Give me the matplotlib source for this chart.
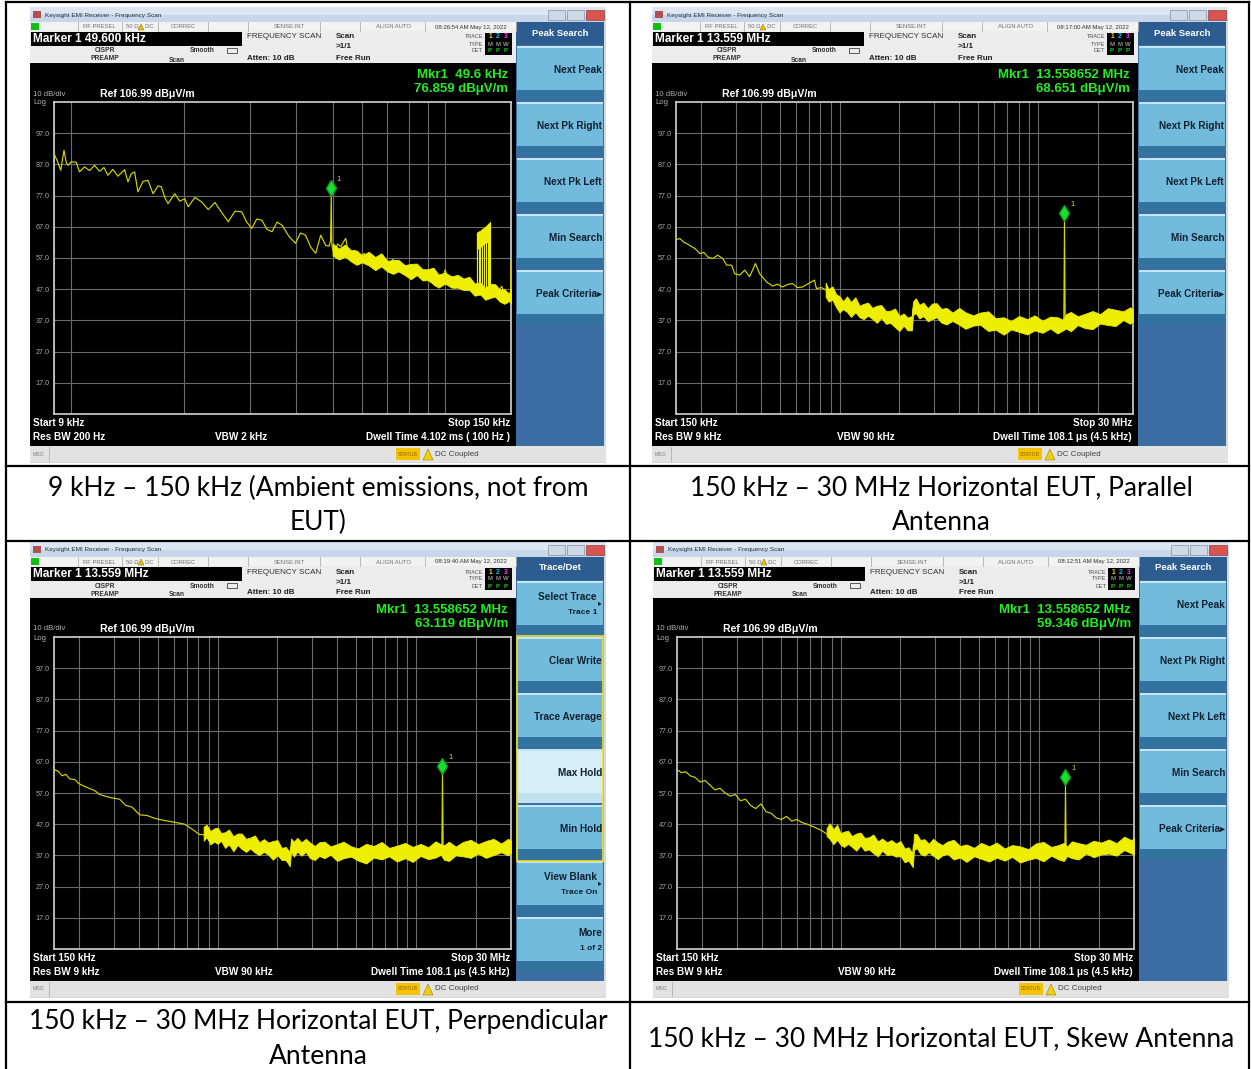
import matplotlib
matplotlib.use("Agg")
import matplotlib.pyplot as plt
from matplotlib.patches import Rectangle, Polygon
from matplotlib.ticker import LogLocator, NullLocator
from matplotlib.transforms import offset_copy

plt.rcParams["font.family"] = ["Liberation Sans", "DejaVu Sans"]

W, H = 1251, 1069

# ---------------- data ----------------
# 9 kHz - 150 kHz ambient scan, frequency in kHz, level in dBuV/m
amb_f = [9.00, 9.19, 9.38, 9.57, 9.71, 9.81, 10.01, 10.31, 10.53, 10.86,
         11.20, 11.55, 11.91, 12.24, 12.54, 12.93, 13.34, 13.90, 14.19, 14.48,
         14.78, 15.09, 15.56, 16.05, 16.56, 17.08, 17.43, 17.79, 18.16, 18.93,
         19.52, 20.14, 20.56, 21.42, 22.32, 23.26, 24.24, 25.26, 26.32, 27.43,
         28.58, 29.48, 30.41, 31.37, 32.36, 33.39, 34.44, 35.53, 36.65, 38.19,
         39.80, 41.06, 42.35, 43.69, 45.07, 46.49, 47.96, 48.95, 49.40, 49.60,
         49.80, 50.50, 51.55, 52.56, 54.22, 55.35, 57.09, 58.28, 60.74, 62.65,
         64.63, 68.04, 70.18, 72.40, 74.69, 77.02, 79.45, 82.79, 86.26, 90.29,
         94.07, 98.01, 100.0, 103.1, 106.3, 109.7, 113.2, 116.7, 120.3, 125.0,
         130.0, 136.1, 141.8, 146.3, 149.5, 150.0]
amb_db = [90.4, 88.0, 85.1, 91.5, 87.5, 86.7, 87.8, 87.7, 84.6, 86.2,
          85.0, 86.7, 84.8, 86.0, 83.5, 85.4, 83.2, 85.3, 81.4, 84.0,
          84.6, 78.2, 81.5, 81.9, 77.6, 80.1, 79.8, 76.5, 74.4, 77.6,
          75.2, 76.0, 73.4, 76.4, 75.0, 72.5, 74.8, 71.6, 68.6, 72.0,
          71.8, 68.5, 66.5, 69.5, 69.1, 66.2, 65.4, 68.5, 67.5, 64.0,
          61.7, 65.0, 64.3, 60.5, 58.5, 64.3, 61.0, 60.8, 62.5, 76.859,
          61.0, 58.0, 61.5, 60.6, 63.3, 57.5, 59.5, 56.4, 58.5, 55.5,
          55.8, 58.0, 54.2, 56.5, 55.3, 52.5, 51.0, 53.7, 50.5, 50.5,
          48.0, 50.0, 53.2, 48.5, 47.3, 49.5, 48.9, 47.0, 46.2, 46.0,
          45.5, 45.2, 47.9, 42.5, 44.5, 55.8]
amb_band_f = [50, 52, 54, 56, 58, 60, 62.5, 65, 67.5, 70,
              72.5, 75, 78, 81, 84, 87, 90, 93, 96, 100,
              104, 108, 112, 116, 120, 124, 128, 132, 136, 140,
              144, 148, 150]
amb_band_hi = [61.7, 60.0, 61.3, 59.5, 59.4, 57.8, 59.0, 57.3, 58.5, 56.1,
               56.3, 56.4, 54.7, 55.1, 55.2, 53.4, 53.4, 53.9, 51.7, 52.3,
               51.1, 51.6, 50.4, 51.0, 48.8, 49.2, 47.4, 48.7, 48.6, 46.9,
               47.0, 45.6, 47.1]
amb_band_lo = [57.8, 56.5, 57.4, 55.9, 54.8, 55.6, 54.6, 53.1, 54.3, 52.7,
               51.9, 52.7, 51.5, 50.2, 51.5, 49.8, 49.9, 48.6, 47.5, 48.8,
               47.5, 47.5, 46.7, 46.8, 44.9, 45.4, 43.6, 44.2, 44.6, 43.0,
               42.3, 43.2, 42.4]
amb_burst_f = [121.5, 121.9, 123.0, 124.2, 125.5, 127.0, 128.5, 130.0, 131.2, 131.9]
amb_burst_top = [64.9, 65.2, 65.5, 65.8, 66.3, 66.7, 67.2, 67.8, 68.3, 68.6]
amb_burst_base = [59.5, 60.0, 60.0, 60.5, 61.0, 61.5, 62.0, 62.0, 62.5, 63.0]

# noisy-floor envelope frequencies shared by the three 150 kHz - 30 MHz scans (MHz)
band_f_mhz = [0.85, 0.88, 0.92, 0.96, 1.0, 1.04, 1.09, 1.14, 1.2, 1.26,
              1.32, 1.39, 1.46, 1.54, 1.62, 1.71, 1.8, 1.9, 2.0, 2.1,
              2.2, 2.31, 2.34, 2.42, 2.52, 2.64, 2.78, 2.92, 3.08, 3.25,
              3.45, 3.7, 4.0, 4.3, 4.7, 5.1, 5.6, 6.1, 6.7, 7.3,
              8.0, 8.8, 9.6, 10.5, 11.5, 12.5, 13.3, 13.8, 14.6, 15.8,
              17.2, 18.8, 20.5, 22.4, 24.5, 26.8, 29.0, 30.0]

# 150 kHz - 30 MHz, parallel antenna (MHz, dBuV/m)
par_f = [0.150, 0.157, 0.1645, 0.170, 0.178, 0.187, 0.198, 0.207, 0.217, 0.230,
         0.243, 0.258, 0.270, 0.286, 0.296, 0.314, 0.333, 0.352, 0.377, 0.395,
         0.429, 0.460, 0.487, 0.516, 0.546, 0.579, 0.613, 0.650, 0.688, 0.747,
         0.764, 0.809, 0.857, 0.918, 0.996, 1.056, 1.118, 1.185, 1.255, 1.330,
         1.409, 1.527, 1.637, 1.774, 1.924, 2.038, 2.160, 2.262, 2.314, 2.341,
         2.509, 2.720, 2.983, 3.160, 3.547, 3.981, 5.007, 6.297, 7.920, 9.962,
         12.53, 13.45, 13.5587, 13.67, 15.75, 19.82, 24.92, 30.0]
par_db = [62.9, 63.2, 62.0, 61.6, 60.8, 60.0, 58.4, 58.8, 57.3, 56.8,
          57.9, 56.8, 54.7, 54.7, 52.0, 51.5, 53.1, 51.0, 55.2, 52.0,
          49.3, 48.0, 48.6, 47.7, 48.5, 48.8, 47.5, 47.7, 48.6, 49.9,
          47.2, 47.5, 46.7, 44.6, 41.9, 42.8, 41.4, 40.8, 39.8, 40.6,
          39.2, 38.9, 38.2, 37.5, 36.6, 35.8, 35.0, 34.4, 34.2, 40.8,
          41.5, 40.3, 39.6, 38.7, 38.2, 37.3, 36.2, 35.1, 35.0, 35.3,
          36.0, 36.2, 68.651, 36.3, 36.8, 37.9, 38.5, 39.0]
par_band_hi = [49.1, 47.0, 47.9, 45.4, 44.7, 43.1, 44.7, 42.9, 44.4, 41.7,
               42.3, 42.7, 41.0, 41.7, 41.9, 40.0, 40.1, 40.8, 38.4, 39.2,
               37.9, 38.4, 43.0, 44.1, 42.0, 42.7, 40.9, 42.4, 42.5, 40.7,
               41.0, 39.5, 41.0, 39.6, 38.6, 39.5, 39.9, 37.7, 38.0, 36.8,
               38.4, 37.4, 38.6, 36.9, 38.2, 38.0, 37.2, 39.0, 39.7, 38.3,
               39.1, 40.0, 39.0, 40.9, 40.4, 39.9, 41.2, 40.5]
par_band_lo = [44.6, 43.0, 43.6, 41.2, 39.5, 40.6, 39.7, 38.1, 39.6, 38.0,
               37.4, 38.5, 37.5, 36.2, 37.8, 35.9, 36.2, 34.8, 33.6, 35.3,
               33.8, 33.8, 38.8, 39.3, 37.6, 38.4, 36.7, 37.4, 38.0, 36.3,
               35.7, 36.8, 35.6, 34.3, 35.3, 35.6, 33.6, 34.0, 32.4, 34.1,
               33.3, 32.5, 33.8, 33.0, 34.4, 32.8, 33.8, 34.4, 33.5, 35.5,
               34.5, 34.2, 36.0, 35.5, 35.2, 37.1, 35.9, 36.7]

# 150 kHz - 30 MHz, perpendicular antenna
perp_f = [0.150, 0.157, 0.165, 0.172, 0.180, 0.191, 0.200, 0.212, 0.225, 0.240,
          0.255, 0.270, 0.290, 0.321, 0.345, 0.370, 0.405, 0.440, 0.480, 0.510,
          0.560, 0.620, 0.681, 0.740, 0.809, 0.900, 1.000, 1.144, 1.300, 1.450,
          1.617, 1.800, 2.000, 2.159, 2.234, 2.300, 2.340, 3.0, 5.0, 8.0,
          12.0, 13.45, 13.5587, 13.67, 16.0, 22.0, 30.0]
perp_db = [64.5, 64.0, 62.5, 63.0, 61.5, 61.3, 60.0, 59.2, 58.5, 57.8,
           56.5, 56.0, 55.5, 55.0, 53.0, 52.5, 50.0, 49.8, 48.9, 48.5,
           48.0, 47.5, 47.0, 45.5, 43.7, 43.5, 42.8, 42.0, 41.0, 40.2,
           39.6, 38.8, 38.0, 37.3, 35.0, 36.0, 39.6, 39.0, 38.0, 37.5,
           37.8, 38.0, 63.119, 38.0, 38.3, 38.9, 39.5]
perp_band_hi = [46.2, 46.8, 44.8, 45.6, 45.9, 44.2, 44.4, 45.3, 43.1, 44.0,
                44.0, 42.3, 42.7, 43.4, 41.2, 42.2, 41.1, 41.6, 41.9, 39.4,
                39.7, 38.1, 42.4, 41.4, 42.6, 41.2, 42.3, 41.1, 40.0, 41.2,
                41.4, 39.9, 40.6, 41.4, 39.9, 39.2, 40.7, 40.0, 41.3, 39.4,
                40.1, 41.0, 39.7, 40.7, 39.6, 41.5, 40.6, 40.2, 41.4, 39.8,
                41.3, 42.0, 40.6, 41.6, 42.3, 40.8, 42.3, 41.7]
perp_band_lo = [41.7, 42.8, 40.5, 41.4, 40.7, 41.7, 39.4, 40.5, 38.3, 40.3,
                39.1, 38.1, 39.2, 37.9, 37.1, 38.1, 37.2, 35.6, 37.1, 35.5,
                35.6, 33.5, 38.2, 36.6, 38.2, 36.9, 38.1, 36.1, 35.5, 36.8,
                36.1, 37.2, 35.2, 36.1, 36.6, 35.3, 34.4, 36.3, 35.7, 36.7,
                35.0, 36.1, 34.9, 36.8, 35.8, 36.3, 37.2, 35.6, 35.2, 37.0,
                36.7, 36.2, 37.6, 36.2, 37.1, 38.0, 37.0, 37.9]

# 150 kHz - 30 MHz, skew antenna
skew_f = [0.150, 0.158, 0.166, 0.175, 0.185, 0.196, 0.208, 0.220, 0.233, 0.247,
          0.262, 0.278, 0.295, 0.313, 0.332, 0.352, 0.374, 0.397, 0.421, 0.447,
          0.474, 0.503, 0.534, 0.567, 0.602, 0.640, 0.680, 0.740, 0.800, 0.870,
          0.950, 1.050, 1.200, 1.400, 1.600, 1.850, 2.100, 2.280, 2.330, 2.600,
          3.2, 5.0, 8.0, 12.0, 13.45, 13.5587, 13.67, 16.0, 22.0, 30.0]
skew_db = [64.5, 63.5, 63.8, 62.5, 62.0, 60.5, 61.0, 59.5, 58.0, 58.5,
           57.0, 56.0, 56.5, 54.5, 55.0, 53.0, 52.0, 53.5, 51.0, 50.5,
           49.0, 48.5, 49.5, 48.0, 48.5, 47.5, 47.0, 46.0, 45.0, 43.5,
           42.5, 42.0, 40.5, 39.5, 38.5, 37.5, 36.5, 35.0, 40.5, 40.0,
           38.5, 37.5, 37.0, 37.2, 37.5, 59.346, 37.5, 38.0, 38.8, 39.5]
skew_band_hi = [45.7, 47.3, 45.4, 46.8, 44.1, 44.6, 44.9, 43.2, 44.0, 44.3,
                42.6, 42.8, 43.7, 41.5, 42.4, 41.2, 41.9, 40.8, 41.6, 39.2,
                39.6, 37.4, 43.8, 43.8, 41.9, 42.2, 40.7, 42.3, 41.1, 40.3,
                41.4, 42.0, 40.0, 40.5, 39.4, 41.0, 39.9, 41.1, 39.2, 40.3,
                39.9, 39.0, 40.8, 41.3, 39.7, 40.3, 41.0, 39.8, 41.5, 40.9,
                40.4, 41.7, 41.1, 42.1, 40.9, 43.0, 41.9, 42.4]
skew_band_lo = [43.2, 42.3, 40.6, 42.0, 40.4, 39.7, 40.7, 39.7, 38.5, 40.2,
                38.5, 38.9, 37.7, 36.7, 38.5, 37.1, 37.3, 36.6, 36.8, 34.8,
                35.3, 33.2, 38.8, 39.3, 37.5, 36.9, 38.0, 36.9, 35.8, 37.0,
                37.5, 35.7, 36.3, 34.9, 36.7, 35.9, 35.0, 36.3, 35.3, 36.5,
                34.7, 35.6, 36.2, 35.1, 36.9, 35.7, 35.2, 36.8, 36.1, 35.7,
                37.6, 36.4, 37.3, 37.6, 36.9, 38.7, 37.7, 37.2]

ref_level = 106.99
grid_db = [96.99, 86.99, 76.99, 66.99, 56.99, 46.99, 36.99, 26.99, 16.99]
grid_labels = ["97.0", "87.0", "77.0", "67.0", "57.0", "47.0", "37.0", "27.0", "17.0"]

times = ["08:26:54 AM May 12, 2022", "08:17:00 AM May 12, 2022",
         "08:19:40 AM May 12, 2022", "08:12:51 AM May 12, 2022"]
marker_heads = ["Marker 1 49.600 kHz", "Marker 1 13.559 MHz",
                "Marker 1 13.559 MHz", "Marker 1 13.559 MHz"]
mkr_freq_text = ["49.6 kHz", "13.558652 MHz", "13.558652 MHz", "13.558652 MHz"]
mkr_f = [49.6, 13.558652, 13.558652, 13.558652]
mkr_db = [76.859, 68.651, 63.119, 59.346]
start_text = ["Start 9 kHz", "Start 150 kHz", "Start 150 kHz", "Start 150 kHz"]
stop_text = ["Stop 150 kHz", "Stop 30 MHz", "Stop 30 MHz", "Stop 30 MHz"]
rbw_text = ["Res BW 200 Hz", "Res BW 9 kHz", "Res BW 9 kHz", "Res BW 9 kHz"]
vbw_text = ["VBW 2 kHz", "VBW 90 kHz", "VBW 90 kHz", "VBW 90 kHz"]
dwell_text = ["Dwell Time 4.102 ms ( 100 Hz )", "Dwell Time 108.1 \u03bcs (4.5 kHz)",
              "Dwell Time 108.1 \u03bcs (4.5 kHz)", "Dwell Time 108.1 \u03bcs (4.5 kHz)"]
f_span = [(9.0, 150.0), (0.15, 30.0), (0.15, 30.0), (0.15, 30.0)]

peak_menu = ["Next Peak", "Next Pk Right", "Next Pk Left", "Min Search", "Peak Criteria\u25b8"]
trace_menu = [("Select Trace", "Trace 1"), ("Clear Write", ""), ("Trace Average", ""),
              ("Max Hold", ""), ("Min Hold", ""), ("View Blank", "Trace On"), ("More", "1 of 2")]

captions = [["9 kHz \u2013 150 kHz (Ambient emissions, not from", "EUT)"],
            ["150 kHz \u2013 30 MHz Horizontal EUT, Parallel", "Antenna"],
            ["150 kHz \u2013 30 MHz Horizontal EUT, Perpendicular", "Antenna"],
            ["150 kHz \u2013 30 MHz Horizontal EUT, Skew Antenna"]]

# ---------------- figure ----------------
fig = plt.figure(figsize=(W / 100, H / 100), dpi=100)
ov = fig.add_axes([0, 0, 1, 1])
ov.set_xlim(0, W)
ov.set_ylim(H, 0)
ov.axis("off")


def box(x, y, w, h, fc, ec="none", lw=0, z=1):
    ov.add_patch(Rectangle((x, y), w, h, facecolor=fc, edgecolor=ec, linewidth=lw, zorder=z))


def txt(x, y, s, size=5, color="black", weight="normal", ha="left", **kw):
    ov.text(x, y, s, fontsize=size, color=color, fontweight=weight, ha=ha,
            va="center", zorder=6, **kw)


def button(x, y, w, h, light=False):
    box(x, y, w, h, "#d6eef8" if light else "#72bbdc", z=2)
    box(x, y, w, 2, "#c2e6f5", z=2)
    box(x, y + h - 10, w, 10, "#c2e2f0" if light else "#33739f", z=2)


def screen(i, x0, y0, menu_kind):
    # window frame / title bar
    box(x0, y0, 576, 456, "#d8d8d8")
    box(x0, y0, 576, 8, "#dbe6f2")
    box(x0, y0 + 8, 576, 8, "#c7d6e8")
    box(x0 + 3, y0 + 4, 8, 7, "#b05050")
    txt(x0 + 15, y0 + 8, "Keysight EMI Receiver - Frequency Scan", size=4.6, color="#1a2a3a")
    box(x0 + 518, y0 + 3, 17, 10, "#cfd9e6", ec="#8090a8", lw=0.5)
    box(x0 + 537, y0 + 3, 17, 10, "#cfd9e6", ec="#8090a8", lw=0.5)
    box(x0 + 556, y0 + 3, 18, 10, "#d9534f", ec="#904040", lw=0.5)

    # status row
    box(x0, y0 + 15, 486, 9, "#f2f2f2")
    box(x0 + 1, y0 + 16, 8, 7, "#10c010")
    for sx in [48, 92, 128, 178, 218, 290, 330, 395, 486]:
        ov.plot([x0 + sx, x0 + sx], [y0 + 15, y0 + 24], color="#b0b0b0", lw=0.6, zorder=3)
    txt(x0 + 69, y0 + 20, "RF PRESEL", size=4.2, color="#707070", ha="center")
    txt(x0 + 110, y0 + 20, "50 \u03a9    DC", size=4.2, color="#707070", ha="center")
    ov.add_patch(Polygon([[x0 + 108, y0 + 23], [x0 + 114, y0 + 23], [x0 + 111, y0 + 17]],
                         closed=True, facecolor="#e8c000", edgecolor="#806000", lw=0.3, zorder=4))
    txt(x0 + 153, y0 + 20, "CORREC", size=4.2, color="#707070", ha="center")
    txt(x0 + 259, y0 + 20, "SENSE:INT", size=4.2, color="#707070", ha="center")
    txt(x0 + 363, y0 + 20, "ALIGN AUTO", size=4.2, color="#707070", ha="center")
    txt(x0 + 441, y0 + 20, times[i], size=4.3, color="#303030", ha="center")

    # settings area
    box(x0, y0 + 24, 486, 32, "#ececec")
    box(x0 + 1, y0 + 25, 211, 14, "black", z=2)
    txt(x0 + 3, y0 + 32, marker_heads[i], size=8.6, color="white", weight="bold")
    txt(x0 + 75, y0 + 44, "CISPR", size=4.8, color="#303030", ha="center", weight="bold")
    txt(x0 + 75, y0 + 52, "PREAMP", size=4.8, color="#303030", ha="center", weight="bold")
    txt(x0 + 185, y0 + 44, "Smooth", size=4.8, color="#303030", ha="right", weight="bold")
    txt(x0 + 147, y0 + 53, "Scan", size=4.8, color="#303030", ha="center", weight="bold")
    box(x0 + 197, y0 + 41, 10, 5, "none", ec="#404040", lw=0.6, z=3)
    txt(x0 + 217, y0 + 30, "FREQUENCY SCAN", size=5.8, color="#303030")
    txt(x0 + 217, y0 + 51, "Atten: 10 dB", size=5.8, color="#202020", weight="bold")
    txt(x0 + 306, y0 + 30, "Scan", size=5.8, color="#202020", weight="bold")
    txt(x0 + 306, y0 + 40, ">1/1", size=5.8, color="#202020", weight="bold")
    txt(x0 + 306, y0 + 51, "Free Run", size=5.8, color="#202020", weight="bold")
    txt(x0 + 453, y0 + 30, "TRACE", size=4.0, color="#505050", ha="right")
    txt(x0 + 453, y0 + 37, "TYPE", size=4.0, color="#505050", ha="right")
    txt(x0 + 453, y0 + 44, "DET", size=4.0, color="#505050", ha="right")
    box(x0 + 455, y0 + 26, 27, 22, "black", z=2)
    for k, (c, t) in enumerate(zip(["#f0e000", "#00c8ff", "#ff30ff"], ["M", "M", "W"])):
        txt(x0 + 460 + 8 * k, y0 + 30, str(k + 1), size=4.8, color=c, weight="bold", ha="center")
        txt(x0 + 460 + 8 * k, y0 + 37, t, size=4.4, color="#909090", weight="bold", ha="center")
        txt(x0 + 460 + 8 * k, y0 + 44, "P", size=4.4, color="#10d010", weight="bold", ha="center")

    # black display area
    box(x0, y0 + 56, 486, 383, "black")
    txt(x0 + 478, y0 + 68, "Mkr1  " + mkr_freq_text[i], size=9.5, color="#22ee22",
        weight="bold", ha="right")
    txt(x0 + 478, y0 + 82, "%.3f dB\u03bcV/m" % mkr_db[i], size=9.5, color="#22ee22",
        weight="bold", ha="right")
    txt(x0 + 3, y0 + 87, "10 dB/div", size=5.6, color="#b0b0b0")
    txt(x0 + 3, y0 + 96, "Log", size=5.6, color="#b0b0b0")
    txt(x0 + 70, y0 + 87, "Ref %.2f dB\u03bcV/m" % ref_level, size=7.6, color="white", weight="bold")
    txt(x0 + 3, y0 + 416, start_text[i], size=7.2, color="white", weight="bold")
    txt(x0 + 3, y0 + 430, rbw_text[i], size=7.2, color="white", weight="bold")
    txt(x0 + 185, y0 + 430, vbw_text[i], size=7.2, color="white", weight="bold")
    txt(x0 + 480, y0 + 416, stop_text[i], size=7.2, color="white", weight="bold", ha="right")
    txt(x0 + 480, y0 + 430, dwell_text[i], size=7.2, color="white", weight="bold", ha="right")

    # message bar
    box(x0, y0 + 439, 576, 16, "#e2e2e2")
    ov.plot([x0 + 19, x0 + 19], [y0 + 440, y0 + 454], color="#b0b0b0", lw=0.6, zorder=3)
    txt(x0 + 3, y0 + 447, "MSG", size=3.8, color="#808080")
    box(x0 + 366, y0 + 441, 24, 12, "#f3c200", z=2)
    txt(x0 + 378, y0 + 447, "STATUS", size=3.8, color="#8a5a00", ha="center")
    ov.add_patch(Polygon([[x0 + 393, y0 + 453], [x0 + 403, y0 + 453], [x0 + 398, y0 + 442]],
                         closed=True, facecolor="#f0d000", edgecolor="#806000", lw=0.3, zorder=4))
    txt(x0 + 405, y0 + 447, "DC Coupled", size=5.8, color="#404040")

    # soft-key panel
    box(x0 + 486, y0 + 15, 88, 424, "#3a6da2")
    box(x0 + 486, y0 + 15, 88, 23, "#2d5d90", z=2)
    if menu_kind == "peak":
        txt(x0 + 530, y0 + 26, "Peak Search", size=6.8, color="white", weight="bold", ha="center")
        for k, lab in enumerate(peak_menu):
            top = y0 + 39 + 56 * k
            button(x0 + 487, top, 86, 54)
            txt(x0 + 572, top + 24, lab, size=7.2, color="#102030", weight="bold", ha="right")
    else:
        txt(x0 + 530, y0 + 26, "Trace/Det", size=6.8, color="white", weight="bold", ha="center")
        for k, (lab, sub) in enumerate(trace_menu):
            top = y0 + 39 + 56 * k
            button(x0 + 487, top, 86, 54, light=(lab == "Max Hold"))
            if sub:
                xr = x0 + 567 if k in (0, 5) else x0 + 572
                txt(xr, top + 16, lab, size=7.2, color="#102030", weight="bold", ha="right")
                txt(xr, top + 31, sub, size=6.0, color="#102030", weight="bold", ha="right")
                if k in (0, 5):
                    txt(x0 + 568, top + 23, "\u25b8", size=5.5, color="#102030")
            else:
                txt(x0 + 572, top + 24, lab, size=7.2, color="#102030", weight="bold", ha="right")
        box(x0 + 487, y0 + 94, 86, 225, "none", ec="#f0e020", lw=1.2, z=3)


def trace(i, x0, y0, f, db, band_f, band_lo, band_hi):
    ax = fig.add_axes([(x0 + 24) / W, 1 - (y0 + 95 + 312) / H, 457 / W, 312 / H])
    ax.set_facecolor("black")
    ax.set_xscale("log")
    ax.set_xlim(*f_span[i])
    ax.set_ylim(ref_level - 100, ref_level)
    ax.xaxis.set_major_locator(LogLocator(base=10, subs=range(1, 10), numticks=100))
    ax.xaxis.set_minor_locator(NullLocator())
    ax.set_yticks(grid_db)
    ax.set_yticklabels(grid_labels, fontsize=5.2, color="#a8a8a8")
    ax.tick_params(axis="both", length=0, pad=3, labelbottom=False)
    ax.grid(True, color="#6c6c6c", lw=0.8)
    for s in ax.spines.values():
        s.set_color("#c4c4c4")
        s.set_linewidth(1.3)
    ax.plot(f, db, color="#d4d400", lw=0.85, zorder=3)
    ax.fill_between(band_f, band_lo, band_hi, color="#eeee00", lw=0.6, zorder=4)
    mark = offset_copy(ax.transData, fig=fig, y=6, units="points")
    ax.plot([mkr_f[i]], [mkr_db[i]], marker="d", ms=8, color="#18e030", mec="#10a020",
            transform=mark, zorder=6, clip_on=False)
    lab = offset_copy(ax.transData, fig=fig, x=4, y=11, units="points")
    ax.text(mkr_f[i], mkr_db[i], "1", transform=lab, fontsize=5.5, color="#e8d040", zorder=6)
    return ax


origins = [(30, 7), (652, 7), (30, 542), (653, 542)]
menus = ["peak", "peak", "trace", "peak"]
for i, (x0, y0) in enumerate(origins):
    screen(i, x0, y0, menus[i])

ax1 = trace(0, 30, 7, amb_f, amb_db, amb_band_f, amb_band_lo, amb_band_hi)
ax1.fill_between(amb_burst_f, amb_burst_base, amb_burst_top, color="#eeee00", lw=0.5, zorder=4)
ax1.vlines(amb_burst_f, 45.0, amb_burst_top, color="#eeee00", lw=0.8, zorder=4)
trace(1, 652, 7, par_f, par_db, band_f_mhz, par_band_lo, par_band_hi)
trace(2, 30, 542, perp_f, perp_db, band_f_mhz, perp_band_lo, perp_band_hi)
trace(3, 653, 542, skew_f, skew_db, band_f_mhz, skew_band_lo, skew_band_hi)

# small green reference carets above "Stop"
for (cx, cy) in [(468, 411), (1005, 414), (1049, 949)]:
    txt(cx, cy, "^", size=5, color="#20d020", ha="center")

# table rules
for xv in [6, 630, 1249]:
    ov.plot([xv, xv], [2, H], color="black", lw=1.6, zorder=7)
for yv in [2, 466, 541, 1002]:
    ov.plot([6, 1249], [yv, yv], color="black", lw=1.6, zorder=7)

cap_x = [318, 941, 318, 941]
cap_y = [[488, 522], [488, 522], [1022, 1056], [1039]]
for cx, ys, lines in zip(cap_x, cap_y, captions):
    for yy, line in zip(ys, lines):
        ov.text(cx, yy, line, fontsize=19, family=["Lato", "DejaVu Sans"], ha="center",
                va="center", color="black", zorder=7)

fig.savefig("out.png", dpi=100, facecolor="white")
